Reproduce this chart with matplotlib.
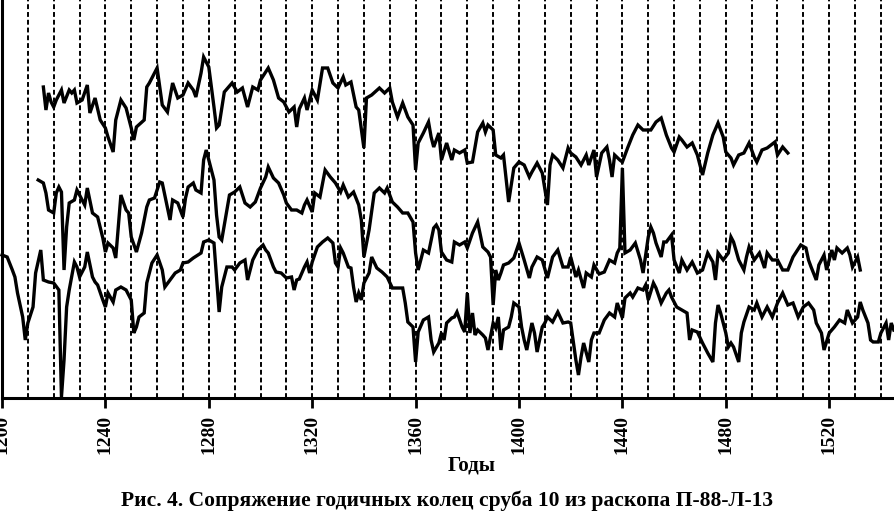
import matplotlib
matplotlib.use("Agg")
import matplotlib.pyplot as plt

# ---- data (relative ring-width index) ----
years_a = [1216,1217,1218,1219,1220,1221,1223,1224,1226,1227,1228,1229,1231,1233,1234,1236,1238,
           1240,1241,1243,1244,1246,1248,1250,1251,1252,1255,1256,1257,1260,1262,1264,1266,1268,
           1270,1272,1274,1275,1277,1278,1280,1282,1283,1284,1286,1289,1291,1293,1295,1297,1299,
           1300,1303,1305,1307,1309,1311,1313,1314,1315,1317,1318,1320,1322,1324,1326,1328,1330,
           1332,1333,1335,1337,1338,1340,1341,1343,1346,1348,1350,1351,1353,1355,1357,1359,1360,
           1361,1363,1365,1366,1367,1369,1370,1372,1374,1375,1377,1379,1380,1382,1384,1386,1387,
           1388,1390,1391,1393,1394,1396,1398,1400,1402,1404,1405,1407,1409,1411,1412,1413,1415,
           1417,1419,1420,1422,1424,1426,1427,1429,1430,1432,1434,1435,1436,1437,1439,1440,1442,
           1444,1446,1448,1451,1453,1455,1457,1459,1460,1462,1463,1465,1467,1469,1471,1473,1475,
           1477,1479,1480,1482,1483,1485,1487,1489,1491,1492,1494,1496,1499,1500,1502,1504]
vals_a = [311,288,305,296,291,298,308,295,308,305,308,295,298,313,285,300,278,
          270,261,246,278,298,290,270,258,271,278,311,315,330,293,286,315,300,
          303,315,308,301,325,341,331,291,270,273,306,315,306,310,291,311,308,
          318,330,318,300,296,286,291,271,289,300,288,308,298,330,330,315,310,
          321,313,316,291,288,250,300,303,310,305,310,296,281,295,281,273,228,
          255,265,276,261,251,265,238,255,238,248,245,248,235,236,266,275,266,
          273,268,243,240,243,196,230,236,233,221,226,235,225,193,233,243,238,
          230,250,245,241,233,243,233,248,221,245,251,238,221,243,238,236,250,
          263,273,268,268,276,280,263,250,246,261,258,251,255,243,223,245,263,
          275,261,246,240,233,243,245,255,241,236,248,250,256,243,251,245]

years_b = [1214,1216,1217,1218,1220,1221,1222,1223,1224,1225,1226,1228,1229,1231,1232,1233,1235,
           1237,1239,1240,1241,1243,1244,1246,1248,1249,1250,1252,1254,1256,1257,1259,1261,1262,
           1264,1265,1266,1268,1270,1271,1272,1274,1275,1277,1278,1279,1280,1282,1283,1284,1285,
           1287,1288,1290,1292,1294,1296,1298,1300,1302,1303,1305,1307,1309,1310,1312,1314,1316,
           1317,1318,1320,1321,1323,1325,1327,1329,1331,1332,1334,1336,1338,1339,1340,1342,1344,
           1346,1348,1349,1351,1353,1355,1357,1359,1360,1361,1363,1365,1367,1368,1369,1370,1372,
           1374,1375,1377,1379,1380,1382,1384,1386,1388,1389,1390,1391,1392,1393,1394,1396,1398,
           1400,1402,1404,1405,1407,1409,1411,1413,1415,1417,1419,1420,1422,1423,1425,1426,1428,
           1429,1431,1433,1435,1437,1438,1439,1440,1441,1443,1445,1447,1448,1450,1451,1452,1453,
           1455,1456,1457,1459,1460,1462,1463,1465,1467,1469,1471,1473,1475,1476,1477,1479,1481,
           1482,1483,1485,1487,1488,1489,1491,1493,1495,1496,1498,1500,1502,1504,1506,1509,1511,
           1512,1513,1515,1516,1518,1519,1521,1522,1523,1525,1527,1528,1529,1531,1532]
vals_b = [218,215,205,188,185,205,211,206,128,171,195,198,208,198,193,210,185,
          181,160,146,155,150,140,203,188,185,161,146,165,191,198,200,216,215,
          190,178,198,195,181,200,211,215,208,205,238,248,238,218,183,161,158,
          188,203,206,211,195,191,196,210,221,231,220,215,203,195,188,188,185,
          193,198,186,205,201,228,221,215,206,213,201,206,193,178,141,168,205,
          210,205,210,196,191,185,185,176,145,128,148,145,170,173,168,146,138,
          136,156,153,156,150,165,176,151,146,141,93,128,118,125,133,135,140,
          155,138,120,131,141,138,120,141,148,131,131,141,121,128,110,125,121,
          133,124,126,138,135,145,150,230,145,148,155,138,125,161,171,165,155,
          141,156,156,163,138,125,138,128,136,125,128,145,136,118,145,138,145,
          161,156,138,128,141,151,138,145,130,145,138,138,128,128,141,153,150,
          138,131,118,133,143,128,148,138,150,145,150,143,131,141,128]

years_c = [1200,1202,1204,1205,1206,1208,1209,1210,1212,1213,1215,1216,1218,1220,1222,1223,1224,
           1225,1226,1228,1229,1230,1232,1233,1235,1236,1237,1239,1240,1241,1243,1244,1246,1248,
           1250,1251,1252,1253,1255,1256,1258,1260,1262,1263,1265,1267,1269,1270,1272,1274,1277,
           1278,1280,1282,1283,1284,1285,1287,1289,1290,1292,1294,1295,1297,1299,1301,1302,1303,
           1305,1306,1308,1310,1312,1313,1314,1315,1317,1318,1319,1320,1322,1324,1326,1328,1329,
           1330,1331,1332,1334,1335,1336,1337,1338,1339,1340,1342,1343,1345,1347,1349,1351,1353,
           1355,1356,1357,1359,1360,1361,1363,1365,1366,1367,1369,1370,1371,1372,1374,1375,1376,
           1378,1379,1380,1381,1382,1383,1384,1386,1387,1388,1390,1391,1392,1393,1394,1396,1397,
           1398,1400,1401,1402,1403,1405,1406,1407,1409,1410,1411,1413,1415,1417,1419,1420,1422,
           1423,1424,1425,1427,1428,1429,1431,1433,1435,1437,1438,1440,1441,1443,1444,1446,1448,
           1449,1450,1452,1453,1455,1457,1458,1459,1461,1463,1465,1466,1467,1469,1471,1473,1475,
           1476,1477,1478,1480,1481,1482,1483,1485,1486,1487,1489,1491,1492,1494,1496,1498,1500,
           1502,1504,1506,1508,1510,1512,1514,1515,1517,1518,1520,1522,1524,1526,1527,1529,1531,
           1532,1533,1535,1536,1537,1539,1540,1542,1543,1544,1545]
vals_c = [143,141,128,121,105,81,58,75,91,125,148,118,116,115,108,1,38,
          91,108,136,131,121,131,146,121,116,113,98,91,105,96,108,111,108,
          98,65,71,81,85,115,135,143,128,111,118,125,128,135,136,140,145,
          156,158,155,121,86,111,131,131,128,135,138,118,138,148,153,148,145,
          131,126,125,120,121,108,118,119,131,136,125,136,151,156,160,155,135,
          131,150,145,131,130,111,96,105,98,115,125,141,130,126,121,110,110,
          110,95,76,71,36,66,78,81,58,46,55,65,58,75,80,81,86,
          71,66,105,65,85,63,68,63,60,48,75,70,81,48,68,71,81,
          95,91,71,58,48,75,65,46,71,75,81,76,86,75,76,75,38,
          23,41,55,36,58,65,65,78,85,81,95,80,100,105,101,110,108,
          113,98,115,110,95,105,108,101,91,88,85,58,68,66,55,45,36,
          75,93,85,65,51,55,51,36,65,76,91,88,95,81,91,81,95,
          105,93,95,81,91,95,88,75,65,48,65,71,78,75,88,75,81,
          96,88,75,58,56,56,65,75,58,75,68]

decades = list(range(1210, 1550, 10))
major_ticks = list(range(1200, 1560, 40))
x_label = "Годы"
caption = "Рис. 4. Сопряжение годичных колец сруба 10 из раскопа П-88-Л-13"

# ---- figure ----
W, H, DPI = 895, 520, 100
fig = plt.figure(figsize=(W / DPI, H / DPI), dpi=DPI)
ax = fig.add_axes([2 / W, (H - 398) / H, 893 / W, 398 / H])
ax.set_xlim(1200, 1200 + 893 / 2.585)
ax.set_ylim(0, 398)

for d in decades:
    ax.axvline(d, color="black", lw=1.4, ls=(0, (2.5, 1.5)), zorder=1)

for yy, vv in ((years_a, vals_a), (years_b, vals_b), (years_c, vals_c)):
    ax.plot(yy, vv, color="black", lw=2.4, solid_joinstyle="miter", zorder=3, clip_on=False)

for s in ("top", "right"):
    ax.spines[s].set_visible(False)
for s in ("left", "bottom"):
    ax.spines[s].set_linewidth(2.2)
ax.set_yticks([])
ax.set_xticks(major_ticks)
ax.set_xticklabels([str(t) for t in major_ticks], rotation=90,
                   fontfamily="Liberation Serif", fontweight="bold", fontsize=14)
ax.tick_params(axis="x", direction="out", length=7, width=2, pad=5)

fig.text(472 / W, 1 - 466 / H, x_label, ha="center", va="center",
         fontfamily="Liberation Serif", fontweight="bold", fontsize=15)
fig.text(447 / W, 1 - 501 / H, caption, ha="center", va="center",
         fontfamily="Liberation Serif", fontweight="bold", fontsize=15.5)

fig.savefig("out.png", dpi=DPI)
